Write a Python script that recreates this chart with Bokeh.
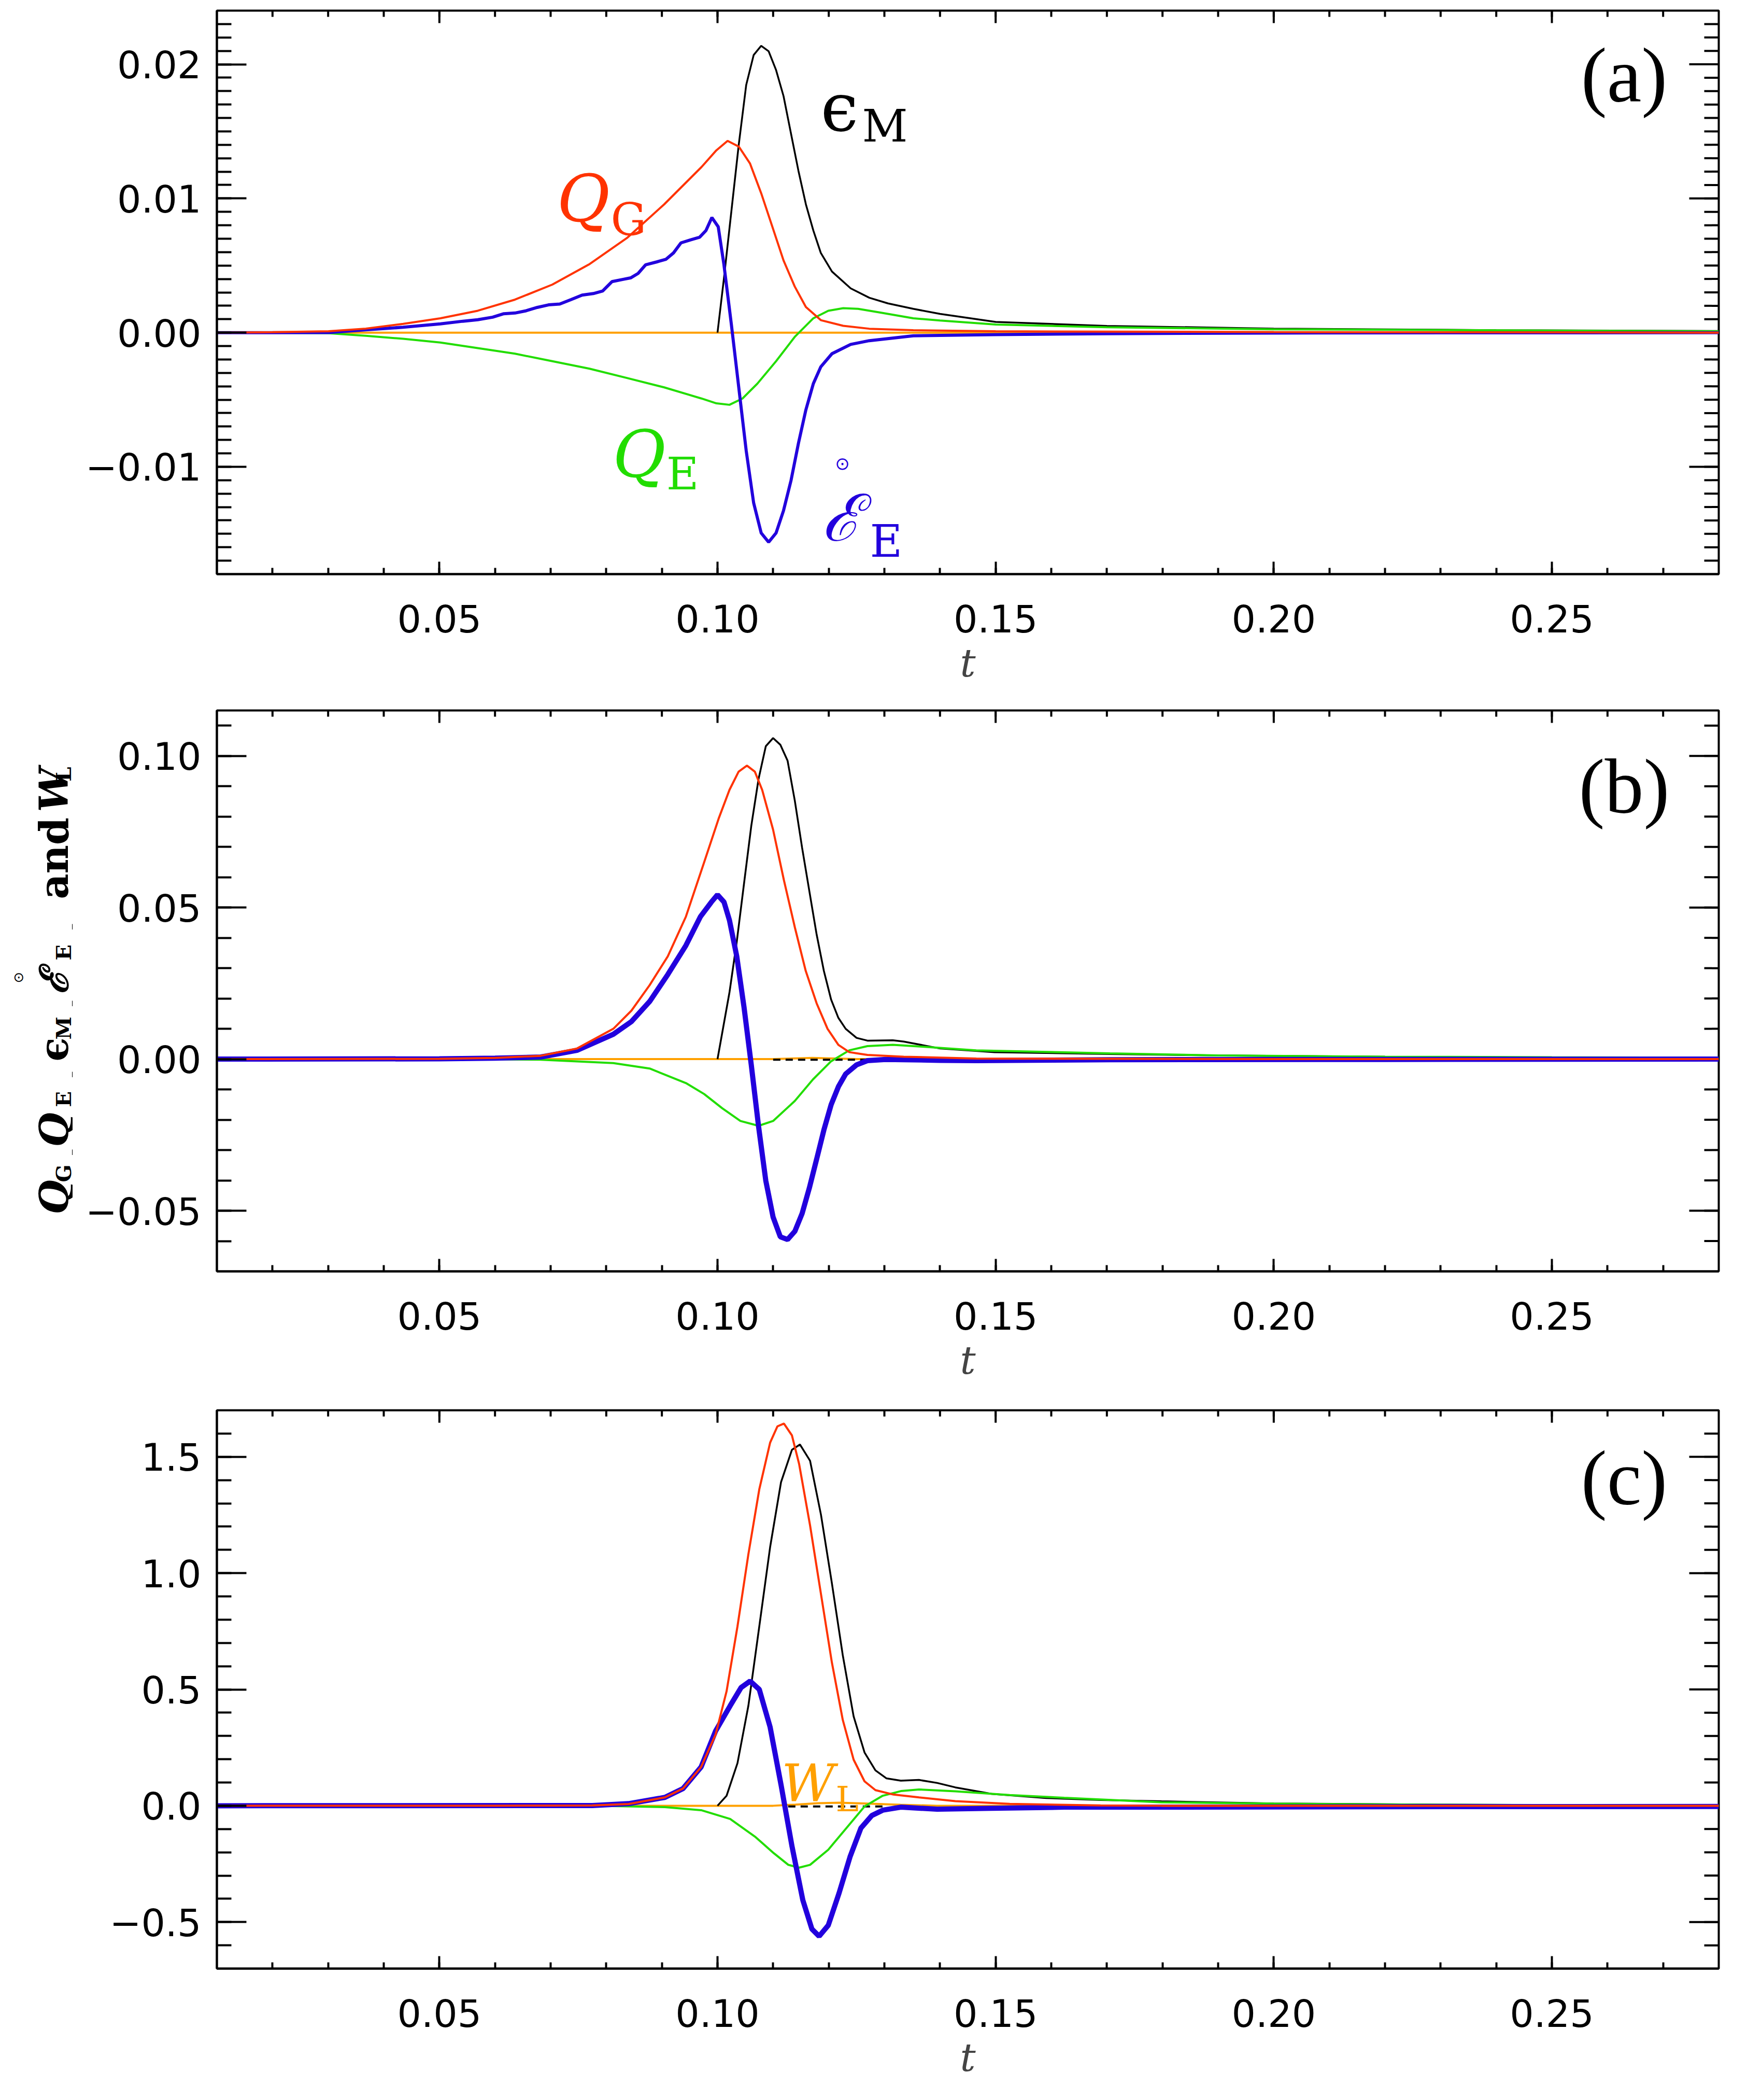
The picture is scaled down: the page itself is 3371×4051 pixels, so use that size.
import numpy as np
from bokeh.plotting import figure
from bokeh.models import LinearAxis, FixedTicker
from bokeh.layouts import column, row
from bokeh.embed import file_html
from bokeh.resources import INLINE
from bokeh.core.properties import value

# ---------------- panel (a) ----------------
a_eps_t = [0.1000, 0.10114, 0.10248, 0.10382, 0.10516, 0.10650, 0.10785, 0.10919, 0.11053, 0.11187,
           0.11321, 0.11455, 0.11589, 0.11723, 0.11857, 0.12058, 0.12394, 0.12729, 0.13064, 0.13520,
           0.1400, 0.1500, 0.1700, 0.2000, 0.2400, 0.2800]
a_eps = [0.0, 0.00399, 0.00900, 0.01401, 0.01846, 0.02069, 0.02138, 0.02097, 0.01957, 0.01763,
         0.01484, 0.01206, 0.00956, 0.00761, 0.00594, 0.00455, 0.00330, 0.00260, 0.00218, 0.00177,
         0.00140, 0.00080, 0.00050, 0.00030, 0.00018, 0.00012]

a_qg_t = [0.0100, 0.0200, 0.03006, 0.03677, 0.04348, 0.05018, 0.05689, 0.06359, 0.07030, 0.07700,
          0.08371, 0.09041, 0.09712, 0.09980, 0.10181, 0.10382, 0.10583, 0.10785, 0.10986, 0.11187,
          0.11388, 0.11589, 0.11857, 0.12260, 0.12729, 0.13520, 0.1500, 0.2000, 0.2800]
a_qg = [0.0, 0.00003, 0.00010, 0.00030, 0.00065, 0.00107, 0.00163, 0.00246, 0.00358, 0.00511,
        0.00705, 0.00956, 0.01234, 0.01359, 0.01429, 0.01387, 0.01262, 0.01039, 0.00789, 0.00538,
        0.00344, 0.00191, 0.00093, 0.00051, 0.00029, 0.00018, 0.00010, 0.00004, 0.0]

a_qe_t = [0.0100, 0.0200, 0.03006, 0.03677, 0.04348, 0.05018, 0.05689, 0.06359, 0.07030, 0.07700,
          0.08371, 0.09041, 0.09712, 0.09980, 0.10215, 0.10449, 0.10717, 0.11053, 0.11388, 0.11723,
          0.11991, 0.12260, 0.12528, 0.12930, 0.13520, 0.1400, 0.1500, 0.1700, 0.2000, 0.2500, 0.2800]
a_qe = [0.0, -0.00001, -0.00004, -0.00024, -0.00046, -0.00074, -0.00115, -0.00157, -0.00213, -0.00269,
        -0.00338, -0.00408, -0.00491, -0.00527, -0.00538, -0.00491, -0.00380, -0.00213, -0.00032, 0.00107,
        0.00163, 0.00182, 0.00177, 0.00149, 0.00107, 0.00090, 0.00060, 0.00040, 0.00025, 0.00015, 0.00010]

a_ee_t = [0.0100, 0.0200, 0.03006, 0.03677, 0.04348, 0.05018, 0.05420, 0.05689, 0.05957, 0.06158,
          0.06359, 0.06560, 0.06761, 0.06963, 0.07164, 0.07365, 0.07566, 0.07767, 0.07935, 0.08102,
          0.08304, 0.08438, 0.08572, 0.08706, 0.08907, 0.09075, 0.09209, 0.09343, 0.09511, 0.09678,
          0.09792, 0.09899, 0.10013, 0.10114, 0.10248, 0.10382, 0.10516, 0.10650, 0.10785, 0.10919,
          0.11053, 0.11187, 0.11321, 0.11455, 0.11589, 0.11723, 0.11857, 0.12058, 0.12394, 0.12729,
          0.13520, 0.1500, 0.1700, 0.2000, 0.2800]
a_ee = [0.0, 0.0, 0.00001, 0.00021, 0.00040, 0.00065, 0.00085, 0.00096, 0.00115, 0.00141,
        0.00146, 0.00163, 0.00188, 0.00207, 0.00213, 0.00246, 0.00280, 0.00291, 0.00310, 0.00380,
        0.00397, 0.00408, 0.00441, 0.00505, 0.00527, 0.00547, 0.00594, 0.00669, 0.00691, 0.00711,
        0.00761, 0.00858, 0.00789, 0.00511, 0.00065, -0.00408, -0.00881, -0.01270, -0.01493, -0.01562,
        -0.01493, -0.01326, -0.01103, -0.00825, -0.00575, -0.00380, -0.00255, -0.00157, -0.00088, -0.00060,
        -0.00024, -0.00015, -0.00008, -0.00003, 0.0]

a_wl_t = [0.0100, 0.2800]
a_wl = [0.0, 0.0]

# ---------------- panel (b) ----------------
b_eps_t = [0.1000, 0.10215, 0.10346, 0.10476, 0.10607, 0.10738, 0.10868, 0.10999, 0.11129, 0.11260,
           0.11390, 0.11521, 0.11651, 0.11782, 0.11912, 0.12043, 0.12173, 0.12304, 0.12500, 0.12695,
           0.13152, 0.13348, 0.14001, 0.14980, 0.17055, 0.1900, 0.2200, 0.2500, 0.2800]
b_eps = [0.0, 0.0220, 0.0387, 0.0578, 0.0769, 0.0924, 0.1032, 0.1059, 0.1037, 0.0984,
         0.0852, 0.0697, 0.0554, 0.0411, 0.0291, 0.0196, 0.0136, 0.0100, 0.0070, 0.0061,
         0.0062, 0.0058, 0.0035, 0.0023, 0.0017, 0.0012, 0.0008, 0.0005, 0.0004]

b_qg_t = [0.0100, 0.0500, 0.0600, 0.06822, 0.07474, 0.08127, 0.08453, 0.08780, 0.09106, 0.09432,
          0.09759, 0.10020, 0.10215, 0.10379, 0.10529, 0.10672, 0.10803, 0.10999, 0.11194, 0.11390,
          0.11586, 0.11782, 0.11978, 0.12173, 0.12369, 0.12695, 0.13348, 0.14653, 0.2000, 0.2800]
b_qg = [0.0, 0.0001, 0.0004, 0.0011, 0.0035, 0.0100, 0.0160, 0.0244, 0.0339, 0.0470,
        0.0649, 0.0793, 0.0888, 0.0948, 0.0968, 0.0948, 0.0888, 0.0757, 0.0590, 0.0435,
        0.0291, 0.0184, 0.0100, 0.0047, 0.0023, 0.0014, 0.0008, 0.0002, 0.0, 0.0]

b_qe_t = [0.0100, 0.0550, 0.06822, 0.08127, 0.08780, 0.09432, 0.09759, 0.10085, 0.10411, 0.10738,
          0.10999, 0.11390, 0.11716, 0.12043, 0.12369, 0.12695, 0.13152, 0.13674, 0.14653, 0.17055,
          0.1900, 0.2200, 0.2500, 0.2800]
b_qe = [0.0, 0.0, -0.0002, -0.0013, -0.0031, -0.0079, -0.0115, -0.0162, -0.0204, -0.0220,
        -0.0204, -0.0138, -0.0067, -0.0007, 0.0029, 0.0043, 0.0047, 0.0041, 0.0029, 0.0019,
        0.0012, 0.0008, 0.0006, 0.0005]

b_ee_t = [0.0100, 0.0500, 0.0600, 0.06822, 0.07474, 0.08127, 0.08453, 0.08780, 0.09106, 0.09432,
          0.09693, 0.09889, 0.10000, 0.10117, 0.10215, 0.10346, 0.10476, 0.10607, 0.10738, 0.10868,
          0.10999, 0.11129, 0.11260, 0.11390, 0.11521, 0.11651, 0.11782, 0.11912, 0.12043, 0.12173,
          0.12304, 0.12500, 0.12695, 0.13022, 0.14001, 0.14653, 0.17055, 0.2200, 0.2800]
b_ee = [0.0, 0.0001, 0.0003, 0.0007, 0.0029, 0.0082, 0.0124, 0.0190, 0.0279, 0.0375,
        0.0470, 0.0518, 0.0542, 0.0518, 0.0458, 0.0339, 0.0172, -0.0019, -0.0222, -0.0401,
        -0.0521, -0.0586, -0.0595, -0.0568, -0.0509, -0.0425, -0.0330, -0.0234, -0.0150, -0.0091,
        -0.0049, -0.0019, -0.0005, -0.0001, -0.0004, -0.0005, -0.0002, -0.0001, 0.0]

b_wl_t = [0.0100, 0.1100, 0.1170, 0.1250, 0.2800]
b_wl = [0.0, 0.0, 0.0004, 0.0, 0.0]

b_dash_t = [0.1100, 0.1270]
b_dash = [-0.0002, -0.0002]

# ---------------- panel (c) ----------------
c_eps_t = [0.10000, 0.10163, 0.10359, 0.10555, 0.10751, 0.10946, 0.11142, 0.11338, 0.11482, 0.11664,
           0.11860, 0.12056, 0.12252, 0.12447, 0.12643, 0.12839, 0.13035, 0.13296, 0.13622, 0.13949,
           0.14275, 0.14928, 0.15907, 0.16886, 0.17982, 0.2000, 0.2300, 0.2600, 0.2800]
c_eps = [0.0, 0.043, 0.183, 0.430, 0.771, 1.112, 1.391, 1.530, 1.553, 1.483,
         1.251, 0.957, 0.647, 0.384, 0.229, 0.152, 0.118, 0.108, 0.111, 0.098,
         0.079, 0.051, 0.033, 0.025, 0.019, 0.010, 0.005, 0.002, 0.001]

c_qg_t = [0.0100, 0.0600, 0.0700, 0.07748, 0.08401, 0.09054, 0.09380, 0.09706, 0.09967, 0.10163,
          0.10359, 0.10555, 0.10751, 0.10946, 0.11077, 0.11194, 0.11338, 0.11468, 0.11664, 0.11860,
          0.12056, 0.12252, 0.12447, 0.12643, 0.12839, 0.13165, 0.13622, 0.14275, 0.15254, 0.16886,
          0.17982, 0.2800]
c_qg = [0.0, 0.0005, 0.0010, 0.0015, 0.0077, 0.036, 0.074, 0.167, 0.307, 0.492,
        0.771, 1.081, 1.360, 1.561, 1.631, 1.643, 1.592, 1.468, 1.205, 0.910,
        0.616, 0.369, 0.198, 0.105, 0.067, 0.048, 0.036, 0.020, 0.008, 0.0015,
        0.0, 0.0]

c_qe_t = [0.0100, 0.0700, 0.07748, 0.09054, 0.09706, 0.10228, 0.10685, 0.11012, 0.11273, 0.11468,
          0.11664, 0.11991, 0.12317, 0.12643, 0.12970, 0.13296, 0.13622, 0.14275, 0.15254, 0.16233,
          0.17982, 0.2000, 0.2300, 0.2800]
c_qe = [0.0, 0.0, 0.0, -0.006, -0.019, -0.057, -0.135, -0.204, -0.254, -0.266,
        -0.254, -0.189, -0.096, -0.003, 0.043, 0.063, 0.070, 0.062, 0.046, 0.034,
        0.015, 0.009, 0.004, 0.001]

c_ee_t = [0.0100, 0.0700, 0.07748, 0.08401, 0.09054, 0.09380, 0.09706, 0.09967, 0.10228, 0.10424,
          0.10587, 0.10751, 0.10946, 0.11142, 0.11338, 0.11534, 0.11697, 0.11827, 0.11991, 0.12186,
          0.12382, 0.12578, 0.12774, 0.12970, 0.13296, 0.13949, 0.14928, 0.16233, 0.17982, 0.2200,
          0.2800]
c_ee = [0.0, 0.001, 0.001, 0.009, 0.036, 0.074, 0.167, 0.322, 0.430, 0.508,
        0.536, 0.500, 0.338, 0.090, -0.173, -0.406, -0.530, -0.561, -0.514, -0.375,
        -0.220, -0.096, -0.042, -0.019, -0.006, -0.015, -0.011, -0.006, -0.006, -0.004,
        -0.003]

c_wl_t = [0.0100, 0.1100, 0.1140, 0.1180, 0.1219, 0.1264, 0.1329, 0.1394, 0.2800]
c_wl = [0.0, 0.0, 0.005, 0.011, 0.013, 0.010, 0.004, 0.0, 0.0]

c_dash_t = [0.1127, 0.1297]
c_dash = [-0.003, -0.003]

# ---------------- axes / ticks ----------------
x_range = (0.01, 0.28)
x_major = [0.05, 0.10, 0.15, 0.20, 0.25]
x_labels = ["0.05", "0.10", "0.15", "0.20", "0.25"]
x_minor = [round(0.01 * i, 2) for i in range(2, 28)]

a_yrange = (-0.018, 0.024)
a_ymajor = [-0.01, 0.0, 0.01, 0.02]
a_ylabels = ["\u22120.01", "0.00", "0.01", "0.02"]
a_yminor = [round(0.001 * i, 3) for i in range(-17, 24)]

b_yrange = (-0.070, 0.115)
b_ymajor = [-0.05, 0.0, 0.05, 0.10]
b_ylabels = ["\u22120.05", "0.00", "0.05", "0.10"]
b_yminor = [round(0.01 * i, 2) for i in range(-6, 12)]

c_yrange = (-0.7, 1.7)
c_ymajor = [-0.5, 0.0, 0.5, 1.0, 1.5]
c_ylabels = ["\u22120.5", "0.0", "0.5", "1.0", "1.5"]
c_yminor = [round(0.1 * i, 1) for i in range(-6, 17)]

BLACK = "#000000"
RED = "#ff3300"
GREEN = "#22dd00"
BLUE = "#2200dd"
ORANGE = "#ffa000"

TICK_FONT = "DejaVu Sans"
LABEL_FONT = "DejaVu Serif"

PAGE_W = 3355
FIG_H = 1345
BORDER_L = 418
BORDER_R = 39
BORDER_B = 238
FRAME_W = PAGE_W - BORDER_L - BORDER_R
TOP_A, TOP_B, TOP_C = 20, 25, 30


def make_axis(ticker, ticks, labels, vertical):
    ax = LinearAxis(ticker=ticker)
    ax.axis_line_width = 4
    ax.major_tick_line_width = 4
    ax.minor_tick_line_width = 4
    ax.major_tick_out = 0
    ax.minor_tick_out = 0
    ax.major_tick_in = 57 if vertical else 24
    ax.minor_tick_in = 28 if vertical else 12
    ax.major_label_overrides = dict(zip(ticks, labels))
    ax.major_label_text_font = TICK_FONT
    ax.major_label_text_font_size = "73px"
    ax.major_label_text_color = "black"
    ax.major_label_standoff = 30 if vertical else 58
    return ax


def mirror_ticks(p, yrange, ymajor, yminor, frame_h):
    # tick marks on the top and right edges of the box
    ylo, yhi = yrange
    dy = (yhi - ylo) / frame_h
    dx = (x_range[1] - x_range[0]) / FRAME_W
    xt = x_major + x_minor
    xl = [24 * dy] * len(x_major) + [12 * dy] * len(x_minor)
    p.segment(x0=xt, y0=[yhi] * len(xt), x1=xt, y1=[yhi - L for L in xl],
              line_color=BLACK, line_width=4)
    yt = ymajor + yminor
    yl = [57 * dx] * len(ymajor) + [28 * dx] * len(yminor)
    p.segment(x0=[x_range[1]] * len(yt), y0=yt, x1=[x_range[1] - L for L in yl], y1=yt,
              line_color=BLACK, line_width=4)


def make_panel(yrange, ymajor, ylabels, yminor, top, width=PAGE_W, left=BORDER_L):
    p = figure(width=width, height=FIG_H, x_range=x_range, y_range=yrange,
               output_backend="svg", toolbar_location=None,
               x_axis_location=None, y_axis_location=None,
               min_border_left=left, min_border_right=BORDER_R,
               min_border_top=top, min_border_bottom=BORDER_B)
    p.grid.visible = False
    p.outline_line_color = "black"
    p.outline_line_width = 4
    p.background_fill_color = "white"
    p.border_fill_color = "white"

    xt = FixedTicker(ticks=x_major, minor_ticks=x_minor)
    yt = FixedTicker(ticks=ymajor, minor_ticks=yminor)

    below = make_axis(xt, x_major, x_labels, False)
    below.axis_label = "t"
    below.axis_label_text_font = LABEL_FONT
    below.axis_label_text_font_style = "italic"
    below.axis_label_text_font_size = "75px"
    below.axis_label_standoff = 12
    p.add_layout(below, "below")
    p.add_layout(make_axis(yt, ymajor, ylabels, True), "left")
    mirror_ticks(p, yrange, ymajor, yminor, FIG_H - top - BORDER_B)
    return p


def draw(p, wl, dash, eps, qe, ee, qg, blue_width):
    p.line(wl[0], wl[1], line_color=ORANGE, line_width=4)
    if dash is not None:
        p.line(dash[0], dash[1], line_color=BLACK, line_width=4, line_dash="14 10")
    p.line(eps[0], eps[1], line_color=BLACK, line_width=3.5)
    p.line(qe[0], qe[1], line_color=GREEN, line_width=4)
    p.line(ee[0], ee[1], line_color=BLUE, line_width=blue_width)
    p.line(qg[0], qg[1], line_color=RED, line_width=4)


def add_text(p, x, y, text, color, size, style="normal", font=LABEL_FONT,
             align="left", baseline="alphabetic", angle=0.0):
    p.text(x=[x], y=[y], text=[text], text_color=color, text_font=value(font),
           text_font_size=value(size), text_font_style=style, angle=angle,
           text_align=align, text_baseline=baseline, level="annotation")


YLAB_W = 140

pa = make_panel(a_yrange, a_ymajor, a_ylabels, a_yminor, TOP_A)
draw(pa, (a_wl_t, a_wl), None, (a_eps_t, a_eps), (a_qe_t, a_qe), (a_ee_t, a_ee),
     (a_qg_t, a_qg), 6)

pb = make_panel(b_yrange, b_ymajor, b_ylabels, b_yminor, TOP_B,
                width=PAGE_W - YLAB_W, left=BORDER_L - YLAB_W)
draw(pb, (b_wl_t, b_wl), (b_dash_t, b_dash), (b_eps_t, b_eps), (b_qe_t, b_qe),
     (b_ee_t, b_ee), (b_qg_t, b_qg), 10)

pc = make_panel(c_yrange, c_ymajor, c_ylabels, c_yminor, TOP_C)
draw(pc, (c_wl_t, c_wl), (c_dash_t, c_dash), (c_eps_t, c_eps), (c_qe_t, c_qe),
     (c_ee_t, c_ee), (c_qg_t, c_qg), 10)

# panel tags
tag_x = 0.263
add_text(pa, tag_x, 0.0192, "(a)", BLACK, "150px", font="Liberation Serif",
         align="center", baseline="middle")
add_text(pb, tag_x, 0.090, "(b)", BLACK, "150px", font="Liberation Serif",
         align="center", baseline="middle")
add_text(pc, tag_x, 1.41, "(c)", BLACK, "150px", font="Liberation Serif",
         align="center", baseline="middle")

# curve names in panel (a)
add_text(pa, 0.11855, 0.0168, "\u03f5", BLACK, "130px")
add_text(pa, 0.12600, 0.0154, "M", BLACK, "86px")
add_text(pa, 0.07111, 0.00996, "Q", RED, "125px", "italic")
add_text(pa, 0.08080, 0.00846, "G", RED, "86px")
add_text(pa, 0.08115, -0.00907, "Q", GREEN, "125px", "italic")
add_text(pa, 0.09080, -0.01054, "E", GREEN, "86px")
add_text(pa, 0.11875, -0.01382, "\u2130", BLUE, "125px", "italic")
add_text(pa, 0.12246, -0.00975, "\u2299", BLUE, "34px", font="DejaVu Sans",
         align="center", baseline="middle")
add_text(pa, 0.12740, -0.01556, "E", BLUE, "86px")

# W_L in panel (c)
add_text(pc, 0.11150, 0.0976, "W", ORANGE, "100px", "italic")
add_text(pc, 0.12125, 0.0279, "L", ORANGE, "67px")

# rotated y label next to panel (b), in its own narrow strip whose frame
# matches the frame of panel (b); positions are pixels from the frame bottom
ylab_text = ["Q", "G", ",", "Q", "E", ",", "\u03f5", "M", ",", "\u2130", "\u2299", "E", ",", "and", "W", "L"]
ylab_pos = [110, 172, 216, 240, 317, 366, 405, 447, 503, 535, 568, 600, 651, 718, 886, 945]
ylab_x = [104, 122, 122, 104, 122, 122, 104, 122, 122, 104, 36, 122, 122, 104, 104, 122]
ylab_size = ["76px", "40px", "76px", "76px", "40px", "76px", "76px", "40px", "76px", "76px",
             "26px", "40px", "76px", "76px", "76px", "40px"]
ylab_style = ["bold italic", "bold", "bold", "bold italic", "bold", "bold", "bold", "bold", "bold",
              "bold italic", "bold", "bold", "bold", "bold", "bold italic", "bold"]

frame_b = FIG_H - TOP_B - BORDER_B
ylab = figure(width=YLAB_W, height=FIG_H, x_range=(0, YLAB_W), y_range=(0, frame_b),
              output_backend="svg", toolbar_location=None,
              x_axis_location=None, y_axis_location=None,
              min_border_left=0, min_border_right=0,
              min_border_top=TOP_B, min_border_bottom=BORDER_B)
ylab.grid.visible = False
ylab.outline_line_color = None
for txt, pos, xx, size, style in zip(ylab_text, ylab_pos, ylab_x, ylab_size, ylab_style):
    if txt == "\u2299":
        add_text(ylab, xx, pos, txt, BLACK, size, "normal", font="DejaVu Sans",
                 align="center", baseline="middle")
    else:
        add_text(ylab, xx, pos, txt, BLACK, size, style, angle=np.pi / 2)

layout = column(pa, row(ylab, pb, spacing=0), pc, spacing=0)
open("out.html", "w").write(file_html(layout, INLINE, title="energy terms"))
